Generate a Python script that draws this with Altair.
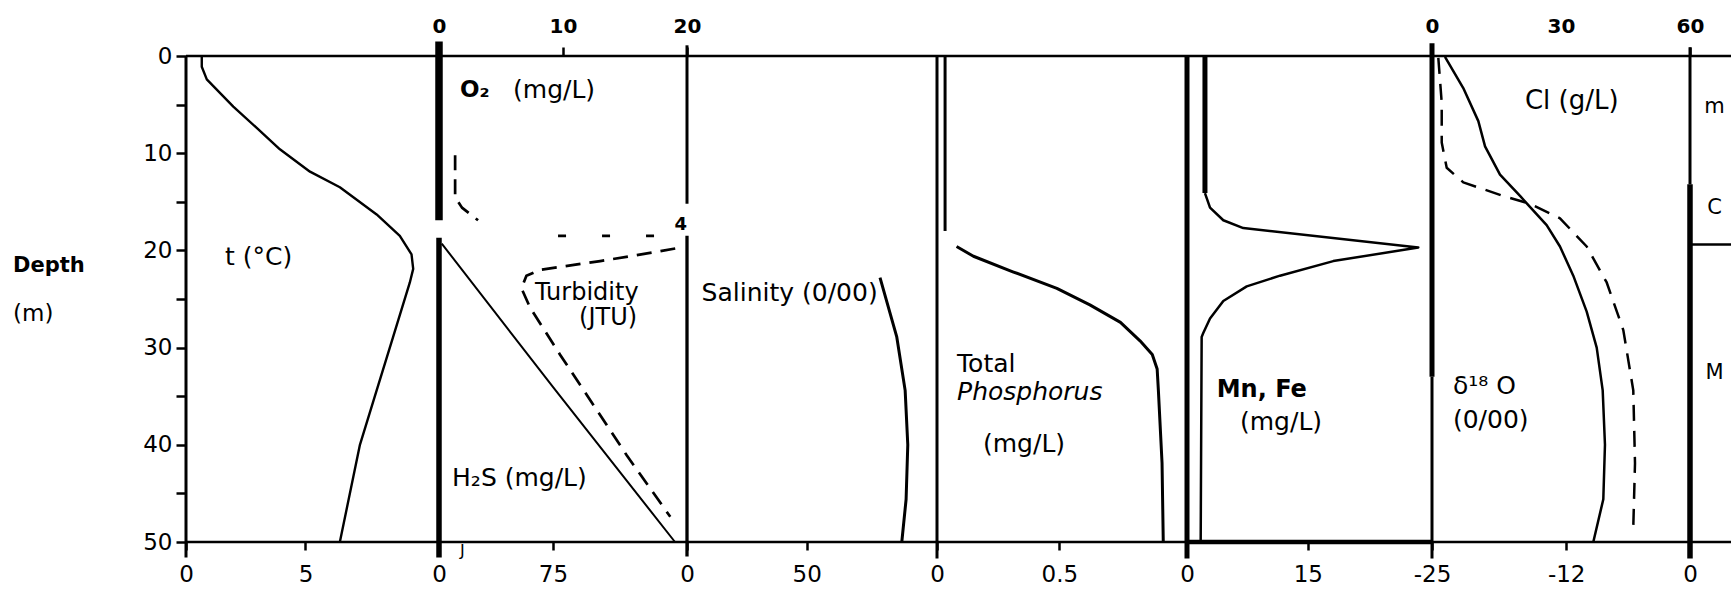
import altair as alt
import pandas as pd

# ---------------- values (depth in m) ----------------
TEMP_DEPTH = [0.0, 1.1, 2.4, 5.2, 7.4, 9.6, 11.9, 13.5, 16.3, 18.5, 20.4, 21.9, 23.3, 28.9, 34.4, 40.0, 50.0]
TEMP_C = [0.66, 0.66, 0.87, 1.98, 2.96, 3.93, 5.19, 6.44, 7.98, 8.95, 9.44, 9.51, 9.37, 8.67, 7.98, 7.28, 6.44]

H2S_DEPTH = [19.3, 34.1, 50.0]
H2S_MGL = [1.8, 75.2, 155.3]

TURB_UPPER_DEPTH = [10.2, 14.5, 15.6, 16.9]
TURB_UPPER_JTU = [0.26, 0.26, 0.37, 0.63]
TURB_BAND_DEPTH = [18.5, 18.5]
TURB_BAND_JTU = [1.92, 3.47]
TURB_LOWER_DEPTH = [19.8, 20.2, 21.1, 22.0, 22.6, 23.9, 25.9, 30.7, 35.9, 41.1, 47.4]
TURB_LOWER_JTU = [3.81, 3.46, 2.60, 1.63, 1.41, 1.33, 1.47, 1.95, 2.49, 3.03, 3.73]

SAL_DEPTH = [22.8, 28.9, 34.4, 40.0, 45.6, 50.0]
SAL_PPT = [80.6, 87.6, 91.1, 92.2, 91.5, 89.7]

P_UPPER_DEPTH = [0.0, 18.0]
P_UPPER_MGL = [0.033, 0.033]
P_DEPTH = [19.6, 20.6, 22.2, 23.9, 25.6, 27.4, 29.3, 30.7, 32.2, 34.4, 41.9, 50.0]
P_MGL = [0.08, 0.149, 0.31, 0.49, 0.625, 0.75, 0.83, 0.88, 0.90, 0.905, 0.92, 0.925]

MNFE_UPPER_DEPTH = [0.0, 14.1]
MNFE_UPPER_MGL = [2.23, 2.23]
MNFE_DEPTH = [14.1, 15.6, 16.9, 17.7, 19.7, 21.1, 22.6, 23.7, 25.2, 27.0, 28.5, 28.9, 50.0]
MNFE_MGL = [2.23, 2.86, 4.51, 6.99, 28.73, 18.17, 11.55, 7.42, 4.51, 2.86, 2.02, 1.82, 1.7]

D18O_DEPTH = [0.1, 3.3, 6.7, 9.3, 12.2, 14.4, 17.4, 19.6, 22.6, 26.3, 30.0, 34.4, 40.0, 45.6, 50.0]
D18O_PERMIL = [-23.74, -21.97, -20.51, -19.86, -18.41, -16.47, -13.89, -12.60, -11.31, -10.01, -9.04, -8.46, -8.24, -8.40, -9.37]

CL_DEPTH = [0.2, 4.8, 8.9, 11.5, 13.0, 14.4, 15.2, 16.7, 19.6, 23.3, 28.2, 34.4, 41.9, 48.5]
CL_GL = [1.47, 2.26, 2.26, 3.42, 7.28, 16.58, 22.79, 29.77, 35.98, 40.63, 44.49, 46.81, 47.21, 46.81]

ZONE_LABELS = ["m", "C", "M"]
ZONE_DEPTH = [5.2, 15.6, 32.6]
ZONE_BOUNDARY = [19.4]

# tick labels
DEPTH_TICKS = [0, 5, 10, 15, 20, 25, 30, 35, 40, 45, 50]
TEMP_TICKS = [0, 5]
O2_TICKS = [0, 10, 20]
H2S_TICKS = [0, 75]
SAL_TICKS = [0, 50]
P_TICKS = [0, 0.5]
MNFE_TICKS = [0, 15]
D18O_TICKS = [-25, -12, 0]
CL_TICKS = [0, 30, 60]

# ---------------- helpers ----------------
FONT = "DejaVu Sans"
H = 486
YS = alt.Scale(domain=[0, 50], reverse=True, nice=False, zero=False)


def xs(lo, hi):
    return alt.Scale(domain=[lo, hi], nice=False, zero=False)


def bottom_axis(values):
    return alt.Axis(orient="bottom", values=values, labelExpr="toString(datum.value)",
                    domain=False, ticks=True, tickSize=8, tickWidth=2.5, tickColor="black",
                    labelFont=FONT, labelFontSize=23, labelColor="black", labelPadding=13,
                    labelFlush=False, labelOverlap=False, grid=False, title=None)


def top_axis(values, hide_tick=None):
    kw = dict(orient="top", values=values, labelExpr="toString(datum.value)",
              domain=False, ticks=True, tickSize=9, tickWidth=2.5, tickColor="black",
              labelFont=FONT, labelFontWeight="bold", labelFontSize=20,
              labelColor="black", labelPadding=11, labelFlush=False, labelOverlap=False,
              grid=False, title=None)
    if hide_tick is not None:
        kw["tickOpacity"] = {"condition": {"test": f"datum.value === {hide_tick}", "value": 0}, "value": 1}
    return alt.Axis(**kw)


Y_AXIS = alt.Axis(values=DEPTH_TICKS, labelExpr="datum.value % 10 == 0 ? toString(datum.value) : ''",
                  domain=False, tickSize=10, tickWidth=2.5, tickColor="black", labelFont=FONT,
                  labelFontSize=23, labelPadding=4, labelColor="black", title=None, grid=False,
                  labelFlush=False, labelOverlap=False)


def curve(depth, vals, scale, axis=None, yaxis=None, width=2.5, dash=None, detail=None):
    df = pd.DataFrame({"d": depth, "v": vals})
    kw = dict(color="black", strokeWidth=width, strokeCap="butt", strokeJoin="round")
    if dash:
        kw["strokeDash"] = dash
    enc = dict(x=alt.X("v:Q", scale=scale, axis=axis),
               y=alt.Y("d:Q", scale=YS, axis=yaxis),
               order=alt.Order("d:Q"))
    if detail is not None:
        df["g"] = detail
        enc["detail"] = "g:N"
    return alt.Chart(df).mark_line(**kw).encode(**enc)


def hrules(depths, widths, yaxis=None):
    df = pd.DataFrame({"d": depths, "w": widths})
    return alt.Chart(df).mark_rule(color="black").encode(
        y=alt.Y("d:Q", scale=YS, axis=yaxis),
        size=alt.Size("w:Q", scale=None, legend=None))


def vrules(x, d0, d1, w, scale, yaxis=None):
    df = pd.DataFrame({"x": x, "d0": d0, "d1": d1, "w": w})
    return alt.Chart(df).mark_rule(color="black", strokeCap="butt").encode(
        x=alt.X("x:Q", scale=scale, axis=None),
        y=alt.Y("d0:Q", scale=YS, axis=yaxis), y2="d1:Q",
        size=alt.Size("w:Q", scale=None, legend=None))


def label(text, x, d, scale, size=24, weight="normal", style="normal", align="left",
          font=FONT, axis=None, yaxis=None):
    df = pd.DataFrame({"t": [text], "x": [x], "d": [d]})
    return alt.Chart(df).mark_text(align=align, baseline="middle", fontSize=size,
                                   fontWeight=weight, fontStyle=style, font=font,
                                   color="black").encode(
        x=alt.X("x:Q", scale=scale, axis=axis),
        y=alt.Y("d:Q", scale=YS, axis=yaxis),
        text="t:N")


def panel(width, layers):
    return alt.layer(*layers).resolve_scale(x="independent").properties(width=width, height=H)


TOP_BOTTOM = ([0, 50], [2.5, 2.5])

# ---------------- panel 1: temperature (carries the depth axis) ----------------
s_t = xs(0, 10.59)
p1 = panel(253, [
    curve(TEMP_DEPTH, TEMP_C, s_t, axis=bottom_axis(TEMP_TICKS), yaxis=Y_AXIS, width=2.4),
    hrules(*TOP_BOTTOM, yaxis=Y_AXIS),
    vrules([0], [0], [51.6], [3], s_t, yaxis=Y_AXIS),
    label("t (°C)", 1.63, 20.7, s_t, size=25, yaxis=Y_AXIS),
    alt.Chart(pd.DataFrame({"t": ["Depth"]})).mark_text(
        align="left", baseline="middle", font=FONT, fontWeight="bold", fontSize=21,
        color="black").encode(x=alt.value(-173), y=alt.value(210), text="t:N"),
    alt.Chart(pd.DataFrame({"t": ["(m)"]})).mark_text(
        align="left", baseline="middle", font=FONT, fontSize=23,
        color="black").encode(x=alt.value(-173), y=alt.value(258), text="t:N"),
])

# ---------------- panel 2: O2, H2S, turbidity ----------------
s_o2 = xs(0, 20)
s_h2s = xs(0, 163.2)
s_tu = xs(0, 4)
p2 = panel(248, [
    hrules(*TOP_BOTTOM),
    vrules([0, 0, 163.2, 163.2], [-1.5, 18.7, -1.1, 18.5], [16.9, 51.6, 15.2, 51.5],
           [7.5, 5.5, 3, 3.3], s_h2s),
    curve(H2S_DEPTH, H2S_MGL, s_h2s, axis=bottom_axis(H2S_TICKS), width=2),
    curve(TURB_UPPER_DEPTH + TURB_LOWER_DEPTH, TURB_UPPER_JTU + TURB_LOWER_JTU, s_tu,
          width=2.7, dash=[15, 9],
          detail=["a"] * len(TURB_UPPER_DEPTH) + ["c"] * len(TURB_LOWER_DEPTH)),
    curve(TURB_BAND_DEPTH, TURB_BAND_JTU, s_tu, width=2.7, dash=[8, 36]),
    label("O₂", 1.69, 3.5, s_o2, size=23, weight="bold", axis=top_axis(O2_TICKS)),
    label("(mg/L)", 5.97, 3.5, s_o2, size=25),
    label("4", 4.0, 17.4, s_tu, size=18, weight="bold", align="right"),
    label("Turbidity", 1.55, 24.4, s_tu),
    label("(JTU)", 2.26, 27.0, s_tu),
    label("H₂S (mg/L)", 8.6, 43.4, s_h2s, size=25),
    label("J", 13.8, 50.9, s_h2s, size=16),
])

# ---------------- panel 3: salinity ----------------
s_s = xs(0, 104.4)
p3 = panel(250, [
    hrules(*TOP_BOTTOM),
    curve(SAL_DEPTH, SAL_PPT, s_s, axis=bottom_axis(SAL_TICKS), width=3),
    label("Salinity (0/00)", 6.1, 24.4, s_s, size=25),
])

# ---------------- panel 4: total phosphorus ----------------
s_p = xs(0, 1.022)
p4 = panel(250, [
    hrules(*TOP_BOTTOM),
    vrules([0], [0], [51.7], [3], s_p),
    curve(P_UPPER_DEPTH, P_UPPER_MGL, s_p, width=3),
    curve(P_DEPTH, P_MGL, s_p, axis=bottom_axis(P_TICKS), width=3),
    label("Total", 0.082, 31.7, s_p, size=25),
    label("Phosphorus", 0.082, 34.6, s_p, size=25, style="italic"),
    label("(mg/L)", 0.188, 39.9, s_p, size=25),
])

# ---------------- panel 5: Mn, Fe ----------------
s_m = xs(0, 30.43)
p5 = panel(245, [
    hrules([0, 50], [2.5, 4.5]),
    vrules([0], [0], [51.7], [5], s_m),
    curve(MNFE_UPPER_DEPTH, MNFE_UPPER_MGL, s_m, width=5),
    curve(MNFE_DEPTH, MNFE_MGL, s_m, axis=bottom_axis(MNFE_TICKS), width=2.5),
    label("Mn, Fe", 3.69, 34.4, s_m, weight="bold", size=24),
    label("(mg/L)", 6.58, 37.7, s_m, size=25),
])

# ---------------- panel 6: delta18O and Cl ----------------
s_d = xs(-25, 0)
s_cl = xs(0, 60)
p6 = panel(258, [
    hrules(*TOP_BOTTOM),
    vrules([-25, -25], [-1.3, 33], [33, 51.7], [5, 3], s_d),
    curve(D18O_DEPTH, D18O_PERMIL, s_d, axis=bottom_axis(D18O_TICKS), width=2.5),
    curve(CL_DEPTH, CL_GL, s_cl, axis=top_axis(CL_TICKS, hide_tick=30), width=2.5, dash=[16, 10]),
    label("Cl (g/L)", -16.0, 4.6, s_d, size=26),
    label("δ¹⁸ O", -22.97, 34.0, s_d, size=25),
    label("(0/00)", -22.97, 37.4, s_d, size=25),
])

# ---------------- panel 7: zones ----------------
s_z = xs(0, 1)
zone_df = pd.DataFrame({"t": ZONE_LABELS, "x": [0.6] * 3, "d": ZONE_DEPTH})
p7 = panel(41, [
    hrules([0, 50] + ZONE_BOUNDARY, [2.5, 2.5, 2.5]),
    vrules([0, 0], [-0.9, 13.2], [13.2, 51.7], [3, 5.5], s_z),
    alt.Chart(zone_df).mark_text(align="center", baseline="middle", font=FONT, fontSize=21,
                                 color="black").encode(
        x=alt.X("x:Q", scale=s_z, axis=None),
        y=alt.Y("d:Q", scale=YS, axis=None), text="t:N"),
])

chart = alt.hconcat(p1, p2, p3, p4, p5, p6, p7, spacing=0, bounds="flush").properties(
    padding={"left": 13, "top": 16, "right": 0, "bottom": 0},
    background="white",
).configure_view(stroke=None)

chart.save("out.html", embed_options={"renderer": "svg", "actions": False})
